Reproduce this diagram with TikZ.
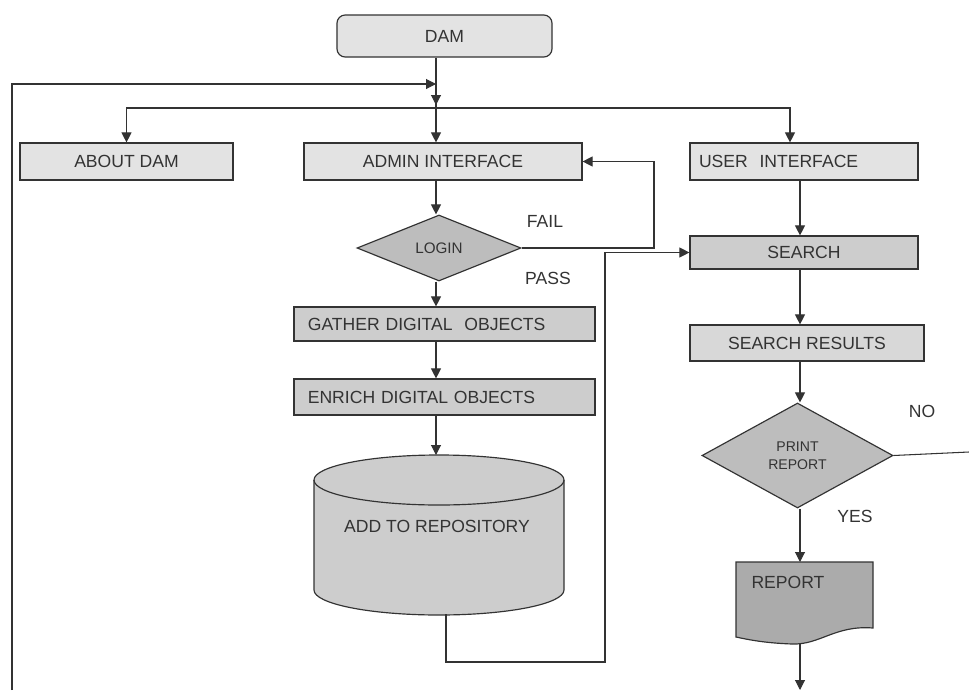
\documentclass[tikz,border=0pt]{standalone}
\usepackage{fontspec}
\setmainfont{Liberation Sans}
\usetikzlibrary{shapes.geometric,arrows.meta}
\definecolor{lightbox}{HTML}{E3E3E3}
\definecolor{midbox}{HTML}{CDCDCD}
\definecolor{darkbox}{HTML}{BDBDBD}
\definecolor{docbox}{HTML}{ABABAB}
\definecolor{linegray}{HTML}{333333}
\begin{document}
\begin{tikzpicture}[x=0.03cm,y=-0.03cm,
    font=\fontsize{15}{17}\selectfont,
    color=linegray,line width=0.9pt,
    flow/.style={-{Triangle[length=8.5pt,width=8.5pt]}},
    box/.style={rectangle,draw=linegray,line width=1pt,minimum height=1.11cm,inner sep=2pt},
    lightbox/.style={box,fill=lightbox},
    midbox/.style={box,fill=midbox},
    decision/.style={diamond,draw=linegray,line width=1pt,fill=darkbox,inner sep=0pt},
    tag/.style={inner sep=0pt}]
  \useasboundingbox (0,0) rectangle (969,690);
  \node[lightbox,rounded corners=7pt,minimum width=6.45cm,minimum height=1.26cm] (dam) at (444.5,36) {DAM};
  \node[lightbox,minimum width=6.39cm] (about) at (126.5,161.5) {ABOUT DAM};
  \node[lightbox,minimum width=8.34cm] (admin) at (443,161.5) {ADMIN INTERFACE};
  \node[lightbox,minimum width=6.84cm,text width=6.3cm,align=left] (user) at (804,161.5) {USER\ \ INTERFACE};
  \node[decision,minimum width=4.92cm,minimum height=1.98cm,font=\fontsize{13}{15}\selectfont] (login) at (439,248) {LOGIN};
  \node[midbox,minimum width=9.03cm,minimum height=1.02cm,text width=8.2cm,align=left] (gather) at (444.5,324) {GATHER DIGITAL\ \ OBJECTS};
  \node[midbox,minimum width=9.03cm,minimum height=1.08cm,text width=8.2cm,align=left] (enrich) at (444.5,397) {ENRICH DIGITAL OBJECTS};
  \node[midbox,minimum width=6.84cm,minimum height=0.99cm] (search) at (804,252.5) {SEARCH};
  \node[midbox,minimum width=7.02cm,minimum height=1.08cm,fill=lightbox!50!midbox] (results) at (807,343) {SEARCH RESULTS};
  \node[decision,minimum width=5.73cm,minimum height=3.15cm,align=center,font=\fontsize{12}{15}\selectfont] (print) at (797.5,455.5) {PRINT\\REPORT};
  % repository
  \filldraw[fill=midbox,line width=1pt] (314,480) -- (314,590) arc[start angle=180,end angle=360,x radius=3.75cm,y radius=0.75cm] -- (564,480) arc[start angle=0,end angle=180,x radius=3.75cm,y radius=0.75cm] -- cycle;
  \draw[line width=1pt] (314,480) arc[start angle=180,end angle=360,x radius=3.75cm,y radius=0.75cm];
  \node[tag] (repo) at (437,526) {ADD TO REPOSITORY};
  \coordinate (repotop) at (436,455);
  \coordinate (repobot) at (446,614);
  % report
  \filldraw[fill=docbox,line width=1pt] (736,562) -- (873,562) -- (873,628) .. controls (835,625) and (820,645) .. (792,644) .. controls (765,643) and (750,640) .. (736,637) -- cycle;
  \node[tag,anchor=west] (report) at (751,582) {REPORT};
  \coordinate (doctop) at (800,562);
  \coordinate (docbot) at (800,644);
  \node[tag] (fail) at (545,221) {FAIL};
  \node[tag] (pass) at (548,278) {PASS};
  \node[tag] (no) at (922,411) {NO};
  \node[tag] (yes) at (855,516) {YES};
  \coordinate (split) at (436,108);
  \coordinate (back) at (12,690);
  \coordinate (noend) at (969,452);
  \coordinate (reportend) at (800,690);
  \draw[flow] (dam.south -| split) -- (436,105);
  \draw (436,100) -- (split);
  \draw[flow] (back) |- (436,84);
  \draw[flow] (split) -| (about.north);
  \draw[flow] (split) -- (admin.north -| split);
  \draw[flow] (split) -| (user.north -| 790,0);
  \draw[flow] (admin.south -| split) -- (login.north -| split);
  \draw[flow] (login.east) -- (654,248) |- (admin.east);
  \draw[flow] (login.south -| split) -- (gather.north -| split);
  \draw[flow] (gather.south -| split) -- (enrich.north -| split);
  \draw[flow] (enrich.south -| split) -- (repotop);
  \draw[flow] (repobot) -- (446,662) -- (605,662) |- (search.west);
  \draw[flow] (user.south -| doctop) -- (search.north -| doctop);
  \draw[flow] (search.south -| doctop) -- (results.north -| doctop);
  \draw[flow] (results.south -| doctop) -- (print.north -| doctop);
  \draw (print.east) -- (noend);
  \draw[flow] (print.south -| doctop) -- (doctop);
  \draw[flow] (docbot) -- (reportend);
\end{tikzpicture}
\end{document}
